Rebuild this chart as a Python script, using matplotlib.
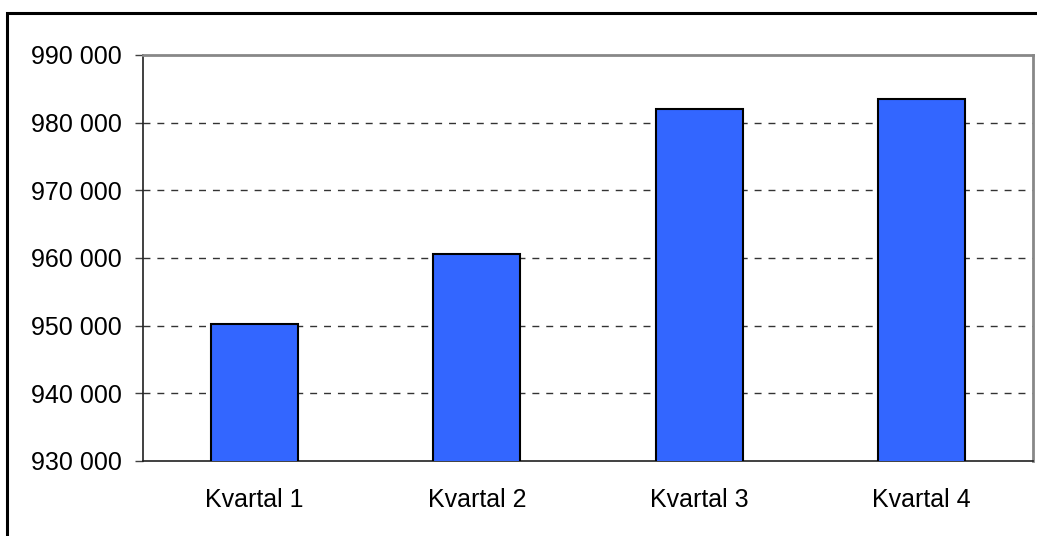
import matplotlib
matplotlib.use("Agg")
import matplotlib.pyplot as plt
from matplotlib.patches import Rectangle
from matplotlib.ticker import FuncFormatter

categories = ["Kvartal 1", "Kvartal 2", "Kvartal 3", "Kvartal 4"]
values = [950300, 960600, 982000, 983500]
y_ticks = [930000, 940000, 950000, 960000, 970000, 980000, 990000]

plt.rcParams['font.family'] = ['Liberation Sans', 'DejaVu Sans']

fig = plt.figure(figsize=(10.37, 5.36), dpi=100)
ax = fig.add_axes([143/1037, 1-461/536, (1033-143)/1037, (461-55)/536])

x = list(range(len(categories)))
ax.bar(x, values, width=0.39, color="#3366FF", edgecolor="black", linewidth=1.5, zorder=3)
ax.set_xlim(-0.5, len(categories) - 0.5)
ax.set_ylim(y_ticks[0], y_ticks[-1])
ax.set_yticks(y_ticks)
ax.yaxis.set_major_formatter(FuncFormatter(lambda v, p: f"{int(v):,}".replace(",", " ")))
ax.set_xticks(x)
ax.set_xticklabels(categories)

for yv in y_ticks[1:-1]:
    ax.axhline(yv, color="#333333", linestyle=(0, (5, 5)), linewidth=1.0, zorder=1)

ax.tick_params(axis='y', direction='out', length=6, width=1, color="#404040",
               labelsize=18, pad=9)
ax.tick_params(axis='x', length=0, labelsize=18, pad=19.5)

for s in ["left", "bottom"]:
    ax.spines[s].set_color("#202020")
    ax.spines[s].set_linewidth(1.2)
for s in ["top", "right"]:
    ax.spines[s].set_color("#888888")
    ax.spines[s].set_linewidth(2)

fig.patches.append(Rectangle((7/1037, -0.05), 1.1, 1 - 13/536 + 0.05,
                             transform=fig.transFigure, fill=False,
                             edgecolor="black", linewidth=2.2))

fig.savefig("out.png", dpi=100)
